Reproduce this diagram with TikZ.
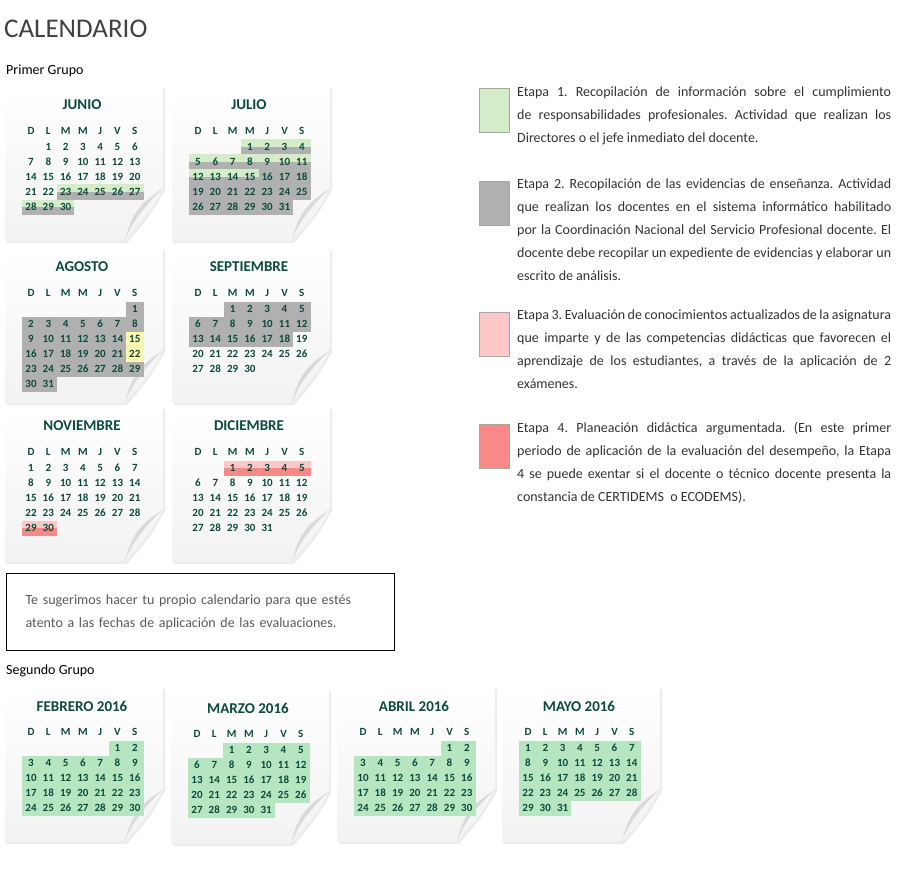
\documentclass[tikz,border=0pt]{standalone}
\usepackage{fontspec}
\setmainfont{Carlito}
\usetikzlibrary{shadows}
\hyphenpenalty=10000 \exhyphenpenalty=10000
\emergencystretch=3em
\frenchspacing
\definecolor{calgreen}{HTML}{0B4A3C}
\definecolor{stgreen}{HTML}{D5ECC9}
\definecolor{stgray}{HTML}{B0B0B0}
\definecolor{styellow}{HTML}{FBF5B0}
\definecolor{stpink}{HTML}{FCC8C8}
\definecolor{stred}{HTML}{F98888}
\definecolor{stmint}{HTML}{B5E6BF}
\tikzset{
  cal title/.style={font=\fontsize{15}{16}\selectfont\bfseries,text=calgreen},
  cal head/.style={font=\fontsize{11}{12}\selectfont\bfseries,text=calgreen},
  cal day/.style={font=\fontsize{11}{12}\selectfont\bfseries,text=calgreen},
  legendbox/.style={draw=gray!70,line width=0.8pt,minimum width=30pt,minimum height=44pt,inner sep=0pt},
  legendtext/.style={anchor=north west,text width=374pt,align=justify,inner sep=0pt,
    font=\fontsize{14}{23}\selectfont,text=black!80},
  top gg/.style={fill=stgreen}, bot gg/.style={fill=stgray},
  top g/.style={fill=stgray}, bot g/.style={fill=stgray},
  top y/.style={fill=styellow}, bot y/.style={fill=styellow},
  top pr/.style={fill=stpink}, bot pr/.style={fill=stred},
  top n/.style={fill=stmint}, bot n/.style={fill=stmint},
}
% #1,#2 corner, #3 title, #4 first weekday, #5 days, #6 marks from/to/kind
\newcommand{\calpage}[6]{%
  \begin{scope}[shift={(#1,#2)}]
    \fill[gray!25,opacity=0.6] (2,2) -- (160,2) -- (160,104) .. controls (145,130) .. (122,157) -- (2,157) -- cycle;
    \shade[top color=white,bottom color=gray!10] (0,0) -- (158,0) -- (158,102) .. controls (146,125) .. (120,155) -- (0,155) -- cycle;
    \fill[gray!30] (158,102) .. controls (146,112) and (128,118) .. (120,155) .. controls (126,136) and (140,120) .. (158,102);
    \node[cal title] at (77,19) {#3};
    \foreach \h [count=\i from 0] in {D,L,M,M,J,V,S}
      \node[cal head] at (26+\i*17.3,45) {\h};
    \foreach \a/\b/\k in {#6}{
      \foreach \d in {\a,...,\b}{
        \pgfmathtruncatemacro\cc{mod(\d-1+#4,7)}
        \pgfmathtruncatemacro\rr{(\d-1+#4)/7}
        \fill[top \k] (17.4+\cc*17.3,53.5+\rr*15) rectangle ++(17.3,7.5);
        \fill[bot \k] (17.4+\cc*17.3,61+\rr*15) rectangle ++(17.3,7.5);
      }}
    \foreach \d in {1,...,#5}{
      \pgfmathtruncatemacro\cc{mod(\d-1+#4,7)}
      \pgfmathtruncatemacro\rr{(\d-1+#4)/7}
      \node[cal day] at (26+\cc*17.3,61+\rr*15) {\d};
    }
  \end{scope}}
\begin{document}
\begin{tikzpicture}[x=1pt,y=-1pt]
  \useasboundingbox (0,0) rectangle (900,880);
  \node[anchor=west,inner sep=0pt,font=\fontsize{27}{28}\selectfont,text=black!75] (title) at (4,29) {CALENDARIO};
  \node[anchor=west,inner sep=0pt,font=\fontsize{14}{15}\selectfont] (grupo1) at (6,71) {Primer Grupo};
  \node[anchor=west,inner sep=0pt,font=\fontsize{14}{15}\selectfont] (grupo2) at (6,671) {Segundo Grupo};

  %%%% Primer grupo
  \calpage{5}{86}{JUNIO}{1}{30}{23/30/gg}
  \calpage{172}{86}{JULIO}{3}{31}{1/15/gg,16/31/g}
  \calpage{5}{248}{AGOSTO}{6}{31}{1/14/g,15/15/y,16/21/g,22/22/y,23/31/g}
  \calpage{172}{248}{SEPTIEMBRE}{2}{30}{1/18/g}
  \calpage{5}{407}{NOVIEMBRE}{0}{30}{29/30/pr}
  \calpage{172}{407}{DICIEMBRE}{2}{31}{1/5/pr}

  %%%% Segundo grupo
  \calpage{5}{687}{FEBRERO 2016}{5}{30}{1/30/n}
  \calpage{171}{689}{MARZO 2016}{2}{31}{1/31/n}
  \calpage{337}{687}{ABRIL 2016}{5}{30}{1/30/n}
  \calpage{502}{687}{MAYO 2016}{0}{31}{1/31/n}

  %%%% Nota
  \node[draw,line width=1.3pt,anchor=north west,minimum width=388pt,minimum height=77pt,
    text width=350pt,align=left,font=\fontsize{14}{23}\selectfont,text=black!65] (nota) at (6,573)
    {Te sugerimos hacer tu propio calendario para que estés atento a las fechas de aplicación de las evaluaciones.};

  %%%% Etapas
  \node[legendbox,fill=stgreen] (box1) at (494,110) {};
  \node[legendbox,fill=stgray] (box2) at (494,203) {};
  \node[legendbox,fill=stpink] (box3) at (494,334) {};
  \node[legendbox,fill=stred] (box4) at (494,446) {};
  \node[legendtext] (etapa1) at (517,87) {Etapa 1. Recopilación de información sobre el cumplimiento de responsabilidades profesionales. Actividad que realizan los Directores o el jefe inmediato del docente.};
  \node[legendtext] (etapa2) at (517,179) {Etapa 2. Recopilación de las evidencias de enseñanza. Actividad que realizan los docentes en el sistema informático habilitado por la Coordinación Nacional del Servicio Profesional docente. El docente debe recopilar un expediente de evidencias y elaborar un escrito de análisis.};
  \node[legendtext] (etapa3) at (517,310) {Etapa 3. Evaluación de conocimientos actualizados de la asignatura que imparte y de las competencias didácticas que favorecen el aprendizaje de los estudiantes, a través de la aplicación de 2 exámenes.};
  \node[legendtext] (etapa4) at (517,422) {Etapa 4. Planeación didáctica argumentada. (En este primer periodo de aplicación de la evaluación del desempeño, la Etapa 4 se puede exentar si el docente o técnico docente presenta la constancia de CERTIDEMS\ \ o ECODEMS).};
\end{tikzpicture}
\end{document}
